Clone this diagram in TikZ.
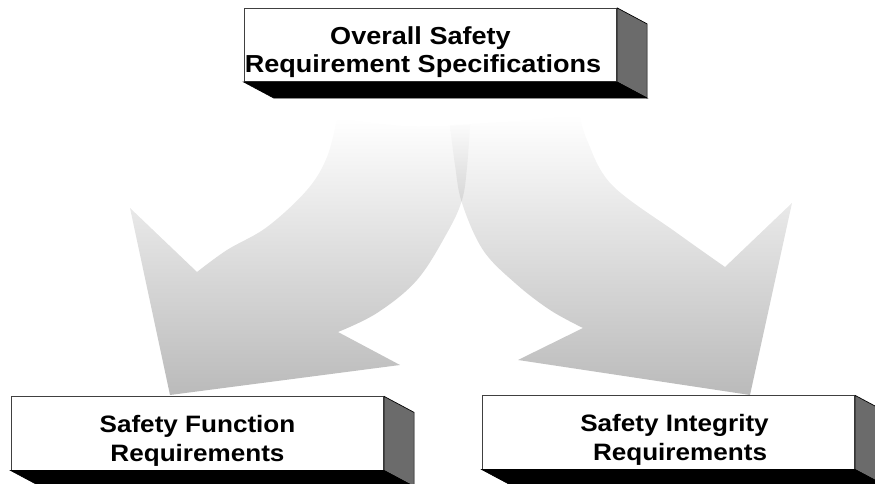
\documentclass[tikz,border=0pt]{standalone}
\usepackage{fontspec}
\newfontfamily\boxfont[FakeStretch=1.1]{Liberation Sans}
\usetikzlibrary{positioning}

% the two solid faces behind a front box
\newcommand{\boxsides}[1]{%
  \filldraw[sideface] (#1.north east) -- ([shift={(0.6,-0.32)}]#1.north east)
    -- ([shift={(0.6,-0.32)}]#1.south east) -- (#1.south east) -- cycle;
  \filldraw[bottomface] (#1.south west) -- (#1.south east)
    -- ([shift={(0.6,-0.32)}]#1.south east) -- ([shift={(0.6,-0.32)}]#1.south west) -- cycle;
}

\tikzset{
  frontbox/.style={draw=black!75, thin, fill=white, minimum width=7.45cm, minimum height=1.47cm, inner sep=0pt},
  boxtext/.style={inner sep=0pt, align=center, font=\boxfont\bfseries\fontsize{13.5}{16.5}\selectfont},
  sideface/.style={fill=black!58, draw=black, thin},
  bottomface/.style={fill=black, draw=black, thin},
  bigarrow/.style={top color=white, bottom color=black!27, blend mode=multiply}
}

\begin{document}
\begin{tikzpicture}
  \useasboundingbox (0, 0) rectangle (17.5, 9.68);
  \clip (0, 0) rectangle (17.5, 9.68);

  % left arrow
  \shade [bigarrow] plot [smooth, tension=0.6] coordinates {(6.74, 7.32) (6.54, 6.54) (6.14, 5.88) (5.34, 5.14) (4.54, 4.68) (3.94, 4.24)}
    -- (2.60, 5.52) -- (3.40, 1.78) -- (8.00, 2.38) -- (6.76, 3.04)
    -- plot [smooth, tension=0.6] coordinates {(6.76, 3.04) (7.54, 3.42) (8.34, 4.08) (8.94, 5.02) (9.24, 5.68) (9.34, 6.34) (9.40, 7.18)}
    -- plot [smooth] coordinates {(9.40, 7.18) (8.10, 7.16) (6.74, 7.32)} -- cycle;

  % right arrow
  \shade [bigarrow] plot [smooth, tension=0.6] coordinates {(9.00, 7.18) (9.10, 6.38) (9.24, 5.62) (9.66, 4.68) (10.30, 4.02) (11.00, 3.48) (11.66, 3.12)}
    -- (10.36, 2.48) -- (15.00, 1.78) -- (15.84, 5.62) -- (14.50, 4.34)
    -- plot [smooth, tension=0.6] coordinates {(14.50, 4.34) (13.54, 5.02) (12.24, 5.98) (11.74, 6.88) (11.60, 7.38)}
    -- plot [smooth] coordinates {(11.60, 7.38) (10.30, 7.26) (9.00, 7.18)} -- cycle;

  \node [frontbox] (overall) at (8.61, 8.78) {};
  \boxsides{overall}
  \node [boxtext, font=\boxfont\bfseries\fontsize{14}{16}\selectfont] (overall-text) at ([xshift=-0.15cm, yshift=-0.14cm]overall.center)
    {Overall Safety\hspace*{0.1cm}\\Requirement Specifications};

  \node [frontbox] (function) at (3.95, 1.01) {};
  \boxsides{function}
  \node [boxtext] (function-text) at ([yshift=-0.14cm]function.center) {Safety Function\\Requirements};

  \node [frontbox] (integrity) at (13.37, 1.03) {};
  \boxsides{integrity}
  \node [boxtext] (integrity-text) at ([xshift=0.12cm, yshift=-0.14cm]integrity.center)
    {Safety Integrity\\\hspace*{0.22cm}Requirements};
\end{tikzpicture}
\end{document}
